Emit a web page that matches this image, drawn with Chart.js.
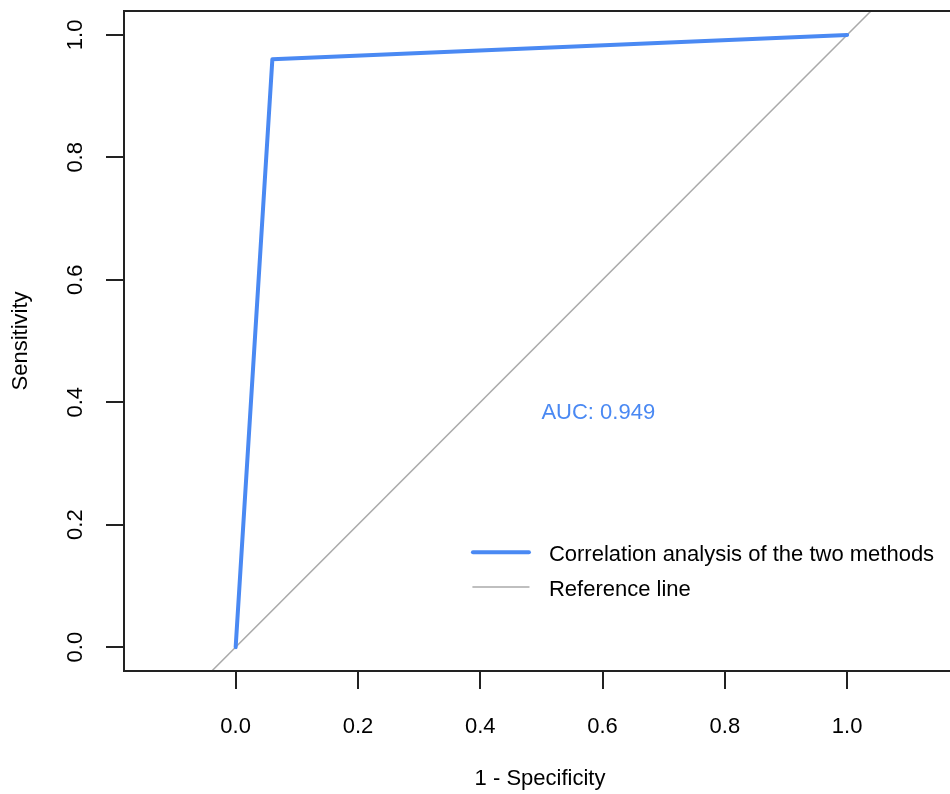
<!DOCTYPE html>
<html>
<head>
<meta charset="utf-8">
<script src="https://cdn.jsdelivr.net/npm/chart.js@4.4.0/dist/chart.umd.min.js"></script>
<style>
  html, body { margin: 0; padding: 0; overflow: hidden; background: #fff; }
  #wrap { width: 960px; height: 794px; }
</style>
</head>
<body>
<div id="wrap"><canvas id="roc" width="960" height="794"></canvas></div>
<script>
// ROC curve (1 - specificity vs sensitivity)
const fpr = [0, 0.06, 1];
const tpr = [0, 0.96, 1];
// diagonal reference line, clipped by the plot box
const refX = [-0.2, 1.2];
const refY = [-0.2, 1.2];
const xTicks = [0, 0.2, 0.4, 0.6, 0.8, 1.0];
const yTicks = [0, 0.2, 0.4, 0.6, 0.8, 1.0];
const aucText = "AUC: 0.949";
const curveLabel = "Correlation analysis of the two methods";
const refLabel = "Reference line";

const BLUE = "#4A89F3";
const GREY = "#AAAAAA";
const FONT = "Liberation Sans, Arial, Helvetica, sans-serif";
const FS = 22;

const toXY = (xs, ys) => xs.map((x, i) => ({ x, y: ys[i] }));

// R style box, rotated y labels, AUC text and legend
const rDecor = {
  id: "rDecor",
  afterDraw(chart) {
    const { ctx, chartArea: a, scales: { x, y } } = chart;
    ctx.save();
    ctx.strokeStyle = "#222";
    ctx.lineWidth = 2;
    ctx.strokeRect(a.left, a.top, a.right - a.left, a.bottom - a.top);

    ctx.font = `${FS}px ${FONT}`;
    ctx.fillStyle = "#000";
    ctx.textAlign = "center";
    ctx.textBaseline = "middle";
    yTicks.forEach(v => {
      ctx.save();
      ctx.translate(75, y.getPixelForValue(v));
      ctx.rotate(-Math.PI / 2);
      ctx.fillText(v.toFixed(1), 0, 1);
      ctx.restore();
    });

    ctx.fillStyle = BLUE;
    ctx.textAlign = "left";
    ctx.textBaseline = "alphabetic";
    ctx.fillText(aucText, x.getPixelForValue(0.5), y.getPixelForValue(0.4) + 16.4);

    const lx = x.getPixelForValue(0.388);
    const rows = [
      { label: curveLabel, color: BLUE, w: 4, yv: 0.155 },
      { label: refLabel, color: GREY, w: 1.5, yv: 0.098 }
    ];
    rows.forEach(r => {
      const py = y.getPixelForValue(r.yv);
      ctx.strokeStyle = r.color;
      ctx.lineWidth = r.w;
      ctx.lineCap = "round";
      ctx.beginPath();
      ctx.moveTo(lx, py);
      ctx.lineTo(lx + 56, py);
      ctx.stroke();
      ctx.fillStyle = "#000";
      ctx.fillText(r.label, lx + 76, py + 9);
    });
    ctx.restore();
  }
};

new Chart(document.getElementById("roc"), {
  type: "line",
  data: {
    datasets: [
      { label: curveLabel, data: toXY(fpr, tpr), borderColor: BLUE, borderWidth: 4,
        pointRadius: 0, tension: 0, order: 0, borderCapStyle: "round", borderJoinStyle: "round" },
      { label: refLabel, data: toXY(refX, refY), borderColor: GREY, borderWidth: 1.5,
        pointRadius: 0, tension: 0, order: 1 }
    ]
  },
  options: {
    responsive: false,
    animation: false,
    layout: { padding: { top: 11, right: 4, left: 0, bottom: 0 } },
    plugins: { legend: { display: false }, tooltip: { enabled: false } },
    scales: {
      x: {
        type: "linear",
        min: -0.1826,
        max: 1.178,
        afterBuildTicks: s => { s.ticks = xTicks.map(v => ({ value: v })); },
        afterFit: s => { s.height = 123; },
        border: { display: false },
        grid: { drawOnChartArea: false, tickLength: 18, color: "#222", lineWidth: 2 },
        ticks: { color: "#000", font: { family: FONT, size: FS }, padding: 25,
                 maxRotation: 0, callback: v => v.toFixed(1) },
        title: { display: true, text: "1 - Specificity", color: "#000",
                 font: { family: FONT, size: FS }, padding: { bottom: 2 } }
      },
      y: {
        type: "linear",
        min: -0.039,
        max: 1.039,
        afterBuildTicks: s => { s.ticks = yTicks.map(v => ({ value: v })); },
        afterFit: s => { s.width = 124; },
        border: { display: false },
        grid: { drawOnChartArea: false, tickLength: 18, color: "#222", lineWidth: 2 },
        ticks: { display: false },
        title: { display: true, text: "Sensitivity", color: "#000",
                 font: { family: FONT, size: FS }, padding: { top: 8 } }
      }
    }
  },
  plugins: [rDecor]
});
</script>
</body>
</html>
